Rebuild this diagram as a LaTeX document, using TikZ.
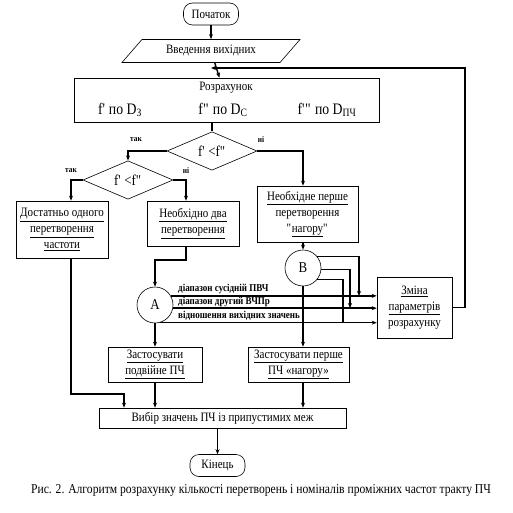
\documentclass[tikz,border=0pt]{standalone}
\usepackage{fontspec}
\setmainfont{Liberation Serif}[FakeStretch=0.86]
\usetikzlibrary{positioning,arrows.meta,shapes.geometric}

\begin{document}
\begin{tikzpicture}[x=1pt,y=-1pt,
  every node/.style={font=\fontsize{12.8}{16}\selectfont},
  term/.style={rectangle, rounded corners=9pt, draw, line width=0.6pt,
    minimum width=55pt, minimum height=22pt, inner sep=1pt},
  inout/.style={trapezium, trapezium left angle=33, trapezium right angle=147,
    trapezium stretches body, draw, line width=0.6pt,
    minimum width=178pt, minimum height=23pt, inner sep=1pt},
  box/.style={rectangle, draw, line width=0.6pt, align=center, inner sep=1pt},
  decide/.style={diamond, draw, line width=0.6pt, minimum width=90pt,
    minimum height=28pt, inner sep=0pt, font=\fontsize{15}{15}\selectfont},
  joint/.style={circle, draw, line width=0.6pt, minimum size=36pt,
    inner sep=0pt, font=\fontsize{15}{15}\selectfont},
  ftxt/.style={font=\fontsize{16}{16}\selectfont},
  yesno/.style={font=\bfseries\fontsize{8.5}{9}\selectfont, inner sep=0pt},
  flow/.style={font=\bfseries\fontsize{10.5}{11}\selectfont, inner sep=0pt, anchor=west},
  arr/.style={-{Stealth[length=5pt,width=4pt]}, line width=1.4pt},
  line/.style={line width=1.4pt},
  fat/.style={-{Stealth[length=5pt,width=4pt]}, line width=2.6pt},
]
\useasboundingbox (0,0) rectangle (513,513);
% top part
\node[term] (start) at (211,14) {Початок};
\node[inout] (input) at (211,51) {Введення вихідних};
\node[box, minimum width=305pt, minimum height=44pt] (calc) at (226.5,100) {};
\node (calctitle) at (226,88) {Розрахунок};
\node[ftxt] (fa) at (120,110) {f\textquotesingle{} по D\textsubscript{З}};
\node[ftxt] (fb) at (223,110) {f\textquotedbl{} по D\textsubscript{С}};
\node[ftxt] (fc) at (327,110) {f\textquotesingle\textquotedbl{} по D\textsubscript{ПЧ}};
% decisions
\node[decide] (dec1) at (212,151) {f\textquotesingle{} <f\textquotedbl};
\node[decide] (dec2) at (128,180) {f\textquotesingle{} <f\textquotedbl};
\node[yesno] (yes1) at (136,140) {так};
\node[yesno] (no1) at (261,140) {ні};
\node[yesno] (yes2) at (71,171) {так};
\node[yesno] (no2) at (186,171) {ні};
% branches
\node[box, minimum width=92pt, minimum height=57pt] (one) at (62,229.5)
  {\underline{Достатньо одного}\\\underline{перетворення}\\\underline{частоти}};
\node[box, minimum width=92pt, minimum height=45pt] (two) at (193,223.5)
  {\underline{Необхідно два}\\\underline{перетворення}};
\node[box, minimum width=101pt, minimum height=56pt] (up) at (307.5,214)
  {\underline{Необхідне перше}\\перетворення\\\textquotedbl\underline{нагору}\textquotedbl};
\node[joint] (conA) at (155,305) {A};
\node[joint] (conB) at (303,268) {B};
\node[box, minimum width=75pt, minimum height=61pt] (change) at (414.5,307.5)
  {\underline{Зміна}\\\underline{параметрів}\\розрахунку};
\node[box, minimum width=94pt, minimum height=35pt] (dbl) at (155,364.5)
  {\underline{Застосувати}\\\underline{подвійне ПЧ}};
\node[box, minimum width=101pt, minimum height=35pt] (first) at (298.5,364.5)
  {\underline{Застосувати перше}\\\underline{ПЧ «нагору»}};
\node[box, minimum width=247pt, minimum height=20pt] (select) at (222.5,418)
  {Вибір значень ПЧ із припустимих меж};
\node[term] (stop) at (217.5,465.5) {Кінець};
\node (caption) at (261,490) {\fontsize{13.5}{14}\selectfont Рис. 2. Алгоритм розрахунку кількості перетворень і номіналів проміжних частот тракту ПЧ};
% flow labels
\node[flow] (lab1) at (178,289) {діапазон сусідній ПВЧ};
\node[flow] (lab2) at (178,302) {діапазон другий ВЧПр};
\node[flow] (lab3) at (178,316) {відношення вихідних значень};
% joints
\coordinate (m1) at (359,296);
\coordinate (m2) at (350,308.1);
\coordinate (m3) at (343,322.4);
\coordinate (back) at (465,68);
\coordinate (bend) at (155,260);
\coordinate (low) at (124,394);
% connectors
\draw[arr] (start) -- (input);
\draw[arr] (input) -- (calc);
\draw[line] (calc.south -| dec1) -- (dec1);
\draw[arr] (dec1.west) -| (dec2.north);
\draw[arr] (dec1.east) -| (up.north -| conB);
\draw[arr] (dec2.west) -| (one.north -| yes2);
\draw[arr] (dec2.east) -| (two.north -| no2);
\draw[arr] (two.south -| no2) |- (bend) -- (conA);
\draw[arr] (up.south -| conB) -- (conB);
\draw[arr] (conA.30) -- (conA.30 -| change.west);
\draw[arr] (conA.-10) -- (conA.-10 -| change.west);
\draw[arr] (conA.-75) -- (conA.-75 -| change.west);
\draw[arr] (conB.40) -| (m1);
\draw[arr] (conB.-5) -| (m2);
\draw[line] (conB.-40) -| (m3);
\draw[arr] (change.east) -| (back) -- (input.south |- back);
\draw[arr] (conA) -- (dbl);
\draw[arr] (conB) -- (conB |- first.north);
\draw[fat] (one.south -| yes2) |- (low) -- (low |- select.north);
\draw[arr] (dbl) -- (dbl |- select.north);
\draw[arr] (conB |- first.south) -- (conB |- select.north);
\draw[arr] (select.south -| stop) -- (stop);
\end{tikzpicture}
\end{document}
